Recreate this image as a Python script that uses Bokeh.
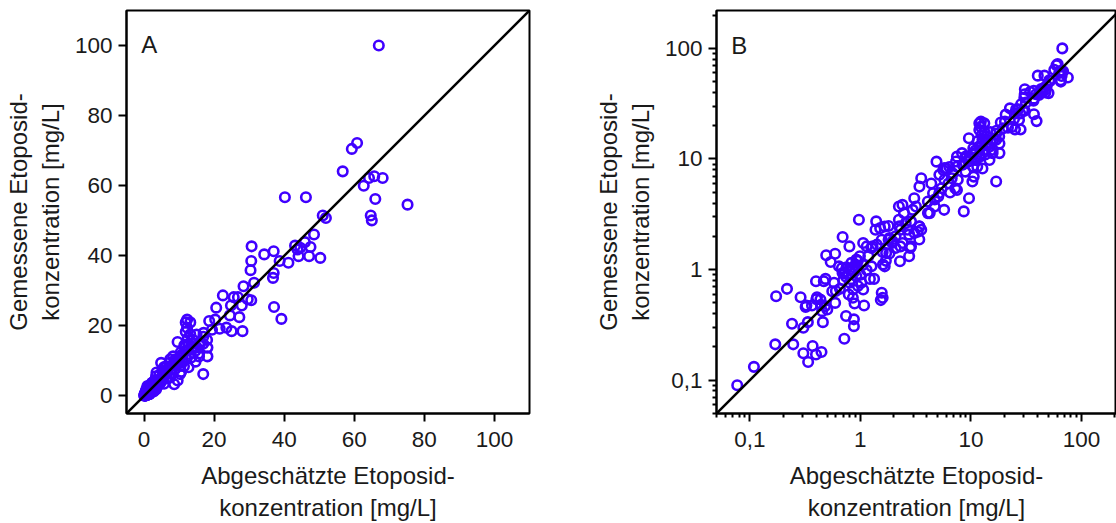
from bokeh.plotting import figure
from bokeh.models import ColumnDataSource, FixedTicker, Label, Range1d, Slope
from bokeh.layouts import row
from bokeh.embed import file_html
from bokeh.resources import INLINE

# estimated (x) and measured (y) etoposide concentrations [mg/L]
est_conc = [
    0.077, 0.109, 0.170, 0.247, 0.173, 0.217, 0.241, 0.288, 0.305, 0.325, 0.335, 0.305, 0.370, 0.337,
    0.397, 0.445, 0.365, 0.397, 0.405, 0.435, 0.458, 0.451, 0.478, 0.502, 0.467, 0.484, 0.491, 0.591,
    0.539, 0.578, 0.591, 0.557, 0.653, 0.691, 0.742, 0.716, 0.796, 0.785, 0.855, 0.874, 0.874, 0.886,
    1.08, 0.97, 0.68, 0.716, 0.742, 1.22, 1.33, 1.56, 1.59, 1.53, 1.60, 1.66, 1.71, 1.39, 1.37, 1.51,
    1.66, 1.80, 1.56, 1.80, 1.41, 1.26, 1.06, 1.14, 1.18, 0.99, 0.92, 0.83, 0.93, 0.80, 0.92, 1.02,
    0.95, 1.06, 1.14, 1.26, 0.80, 0.86, 0.69, 0.64, 0.85, 0.88, 0.90, 0.78, 0.82, 1.00, 0.95, 1.05,
    0.75, 0.70, 1.29, 1.83, 1.59, 1.83, 1.70, 0.60, 0.32, 0.40, 0.44,
    2.08, 2.23, 2.40, 2.48, 2.23, 2.31, 2.57, 2.67, 2.76, 2.31, 2.28, 2.82, 2.76, 2.08, 1.94, 2.97,
    3.07, 3.18, 3.42, 3.30, 3.55, 3.55, 3.42, 4.38, 4.88, 4.08, 4.24, 4.70, 5.06, 5.43, 5.61, 6.02,
    5.72, 6.47, 7.21, 7.47, 8.61, 9.60, 6.70, 6.25, 7.47, 4.70, 4.54, 4.08, 7.33, 5.18, 2.87, 3.41,
    3.08, 3.41, 1.96, 2.87, 2.41, 2.25,
    9.58, 7.47, 8.30, 8.93, 8.93, 10.3, 10.6, 16.9, 11.4, 12.7, 11.0, 11.9, 12.3, 13.2, 13.6, 14.7,
    15.7, 18.1, 18.1, 16.9, 19.4, 5.75, 6.37, 5.18, 5.75, 6.83, 7.60, 8.40, 10.4, 9.00, 10.4, 11.9,
    13.7, 11.9, 13.2, 12.7, 15.7, 14.7, 11.1, 9.68, 12.3, 16.9, 18.0, 10.0, 10.5, 11.0, 12.0, 13.0,
    12.5, 14.0, 15.0, 14.0, 16.0, 11.5, 10.5, 9.5, 8.5, 12.0, 13.5, 17.0, 15.0, 12.5, 18.6, 20.3,
    67.0, 59.3, 60.8, 56.7, 62.7, 64.2, 65.7, 68.1, 66.0, 75.2, 64.7, 65.0, 40.2, 46.2, 51.0, 51.9,
    48.5, 43.1, 45.9, 44.6, 47.5, 44.1, 47.1, 50.3, 41.2, 38.7, 34.3, 37.0, 30.7, 30.6, 30.4, 31.4,
    37.0, 36.8, 37.1, 39.2, 28.4, 30.6, 27.9, 26.8, 25.6, 22.5, 20.6, 24.8, 27.2, 24.5, 28.1, 25.0,
    23.5, 21.6, 29.6, 43.8,
]
meas_conc = [
    0.090, 0.132, 0.211, 0.211, 0.575, 0.670, 0.324, 0.563, 0.298, 0.474, 0.335, 0.175, 0.204, 0.146,
    0.171, 0.180, 0.474, 0.785, 0.563, 0.537, 0.335, 0.421, 0.467, 0.436, 0.785, 0.824, 1.35, 1.39,
    1.17, 0.76, 0.50, 0.638, 0.67, 1.97, 0.380, 0.237, 1.62, 0.595, 0.556, 0.355, 0.308, 0.494,
    0.474, 2.82, 1.03, 0.93, 0.86, 0.824, 0.824, 0.617, 0.556, 0.53, 1.11, 1.07, 1.41, 2.73, 2.29, 2.37,
    2.45, 2.48, 1.86, 1.86, 1.68, 1.57, 1.74, 1.62, 1.32, 1.32, 1.23, 1.15, 1.07, 1.00, 0.87, 0.76,
    0.71, 0.66, 0.99, 1.07, 0.76, 0.66, 0.93, 1.07, 1.00, 0.95, 1.10, 0.90, 0.82, 0.90, 1.20, 1.10,
    1.05, 0.80, 1.62, 1.93, 1.44, 1.40, 1.20, 0.64, 0.46, 0.54, 0.48,
    2.00, 3.72, 3.85, 3.24, 2.82, 2.29, 2.63, 2.29, 2.07, 1.62, 1.19, 1.57, 1.32, 1.57, 1.74, 3.47,
    4.42, 3.72, 2.45, 2.20, 2.29, 6.70, 5.63, 6.00, 9.46, 4.13, 3.24, 3.72, 4.58, 5.43, 7.95, 8.20,
    3.47, 4.97, 5.43, 5.25, 3.36, 4.42, 6.70, 6.00, 8.50, 4.30, 4.90, 3.24, 9.50, 4.93, 2.73, 2.46,
    2.14, 1.87, 1.80, 1.62, 1.74, 2.46,
    15.4, 10.5, 11.3, 10.5, 7.68, 6.25, 6.93, 6.25, 8.50, 8.20, 9.80, 21.0, 19.5, 17.6, 14.9, 12.9,
    12.1, 13.8, 11.3, 16.9, 18.9, 8.26, 8.45, 7.20, 6.49, 7.44, 6.49, 8.86, 8.56, 10.2, 11.3, 13.0,
    13.9, 18.3, 21.0, 14.9, 11.3, 9.80, 9.80, 10.5, 21.8, 14.9, 16.0, 10.0, 11.0, 12.0, 11.0, 12.0,
    13.0, 15.0, 14.0, 16.0, 15.0, 14.5, 12.5, 9.5, 9.0, 10.5, 11.0, 18.0, 17.5, 16.5, 21.4, 21.8,
    100.0, 70.5, 72.2, 64.1, 60.0, 62.2, 62.7, 62.2, 56.2, 54.6, 51.5, 50.1, 56.7, 56.7, 51.5, 50.8,
    46.1, 42.9, 43.9, 42.3, 42.5, 39.9, 39.9, 39.4, 38.0, 38.5, 40.4, 41.3, 42.7, 38.5, 35.9, 32.3,
    35.1, 33.7, 25.4, 22.0, 31.3, 27.3, 25.8, 28.2, 28.2, 28.7, 25.2, 25.8, 22.5, 23.0, 18.5, 18.5,
    19.5, 19.2, 27.6, 41.8,
]

lin_ticks = [0, 20, 40, 60, 80, 100]
log_ticks = [0.1, 1, 10, 100]
log_tick_labels = ["0,1", "1", "10", "100"]
log_minor_ticks = [0.05, 0.06, 0.07, 0.08, 0.09, 0.2, 0.3, 0.4, 0.5, 0.6, 0.7, 0.8, 0.9,
                   2, 3, 4, 5, 6, 7, 8, 9, 20, 30, 40, 50, 60, 70, 80, 90, 200]

x_label = "Abgeschätzte Etoposid-\nkonzentration [mg/L]"
y_label = "Gemessene Etoposid-\nkonzentration [mg/L]"

POINT = "#4000ff"
TEXT = "#1a1a1a"
FONT = "Liberation Sans"

src = ColumnDataSource(data=dict(x=est_conc, y=meas_conc))


def style(p):
    p.outline_line_color = "black"
    p.outline_line_width = 2
    p.grid.visible = False
    p.background_fill_color = "white"
    p.border_fill_color = "white"
    for ax in (p.xaxis[0], p.yaxis[0]):
        ax.axis_line_width = 2
        ax.major_tick_line_width = 2
        ax.minor_tick_line_width = 2
        ax.major_tick_out = 8
        ax.major_tick_in = 0
        ax.minor_tick_out = 4
        ax.minor_tick_in = 0
        ax.major_label_text_font = FONT
        ax.major_label_text_font_size = "22.5px"
        ax.major_label_text_color = TEXT
        ax.axis_label_text_font = FONT
        ax.axis_label_text_font_size = "24px"
        ax.axis_label_text_font_style = "normal"
        ax.axis_label_text_color = TEXT
    p.xaxis[0].major_label_standoff = 10
    p.yaxis[0].major_label_standoff = 6
    p.xaxis[0].axis_label_standoff = 12
    p.yaxis[0].axis_label_standoff = 8


# Panel A: linear
pA = figure(width=590, height=523, output_backend="svg", toolbar_location=None,
            x_range=Range1d(-5, 110), y_range=Range1d(-5, 110),
            min_border_left=126, min_border_right=61, min_border_top=10, min_border_bottom=108,
            x_axis_label=x_label, y_axis_label=y_label)
style(pA)
pA.xaxis[0].ticker = FixedTicker(ticks=lin_ticks)
pA.yaxis[0].ticker = FixedTicker(ticks=lin_ticks)
pA.add_layout(Slope(gradient=1, y_intercept=0, line_color="black", line_width=2.5))
pA.scatter("x", "y", source=src, marker="circle", size=9.5, fill_color=None,
           line_color=POINT, line_width=2.6)
pA.add_layout(Label(x=-0.8, y=100.3, text="A", text_font=FONT, text_font_size="24px",
                    text_color=TEXT, text_align="left", text_baseline="alphabetic"))

# Panel B: log-log
pB = figure(width=526, height=523, output_backend="svg", toolbar_location=None,
            x_axis_type="log", y_axis_type="log",
            x_range=Range1d(0.05, 207), y_range=Range1d(0.05, 220),
            min_border_left=126, min_border_right=0, min_border_top=10, min_border_bottom=109,
            x_axis_label=x_label, y_axis_label=y_label)
style(pB)
pB.xaxis[0].ticker = FixedTicker(ticks=log_ticks, minor_ticks=log_minor_ticks)
pB.yaxis[0].ticker = FixedTicker(ticks=log_ticks, minor_ticks=log_minor_ticks)
overrides = {t: lab for t, lab in zip(log_ticks, log_tick_labels)}
pB.xaxis[0].major_label_overrides = overrides
pB.yaxis[0].major_label_overrides = overrides
pB.add_layout(Slope(gradient=1, y_intercept=0, line_color="black", line_width=2.5))
pB.scatter("x", "y", source=src, marker="circle", size=9.5, fill_color=None,
           line_color=POINT, line_width=2.6)
pB.add_layout(Label(x=0.068, y=107, text="B", text_font=FONT, text_font_size="24px",
                    text_color=TEXT, text_align="left", text_baseline="alphabetic"))

layout = row(pA, pB)
open("out.html", "w").write(file_html(layout, INLINE))
